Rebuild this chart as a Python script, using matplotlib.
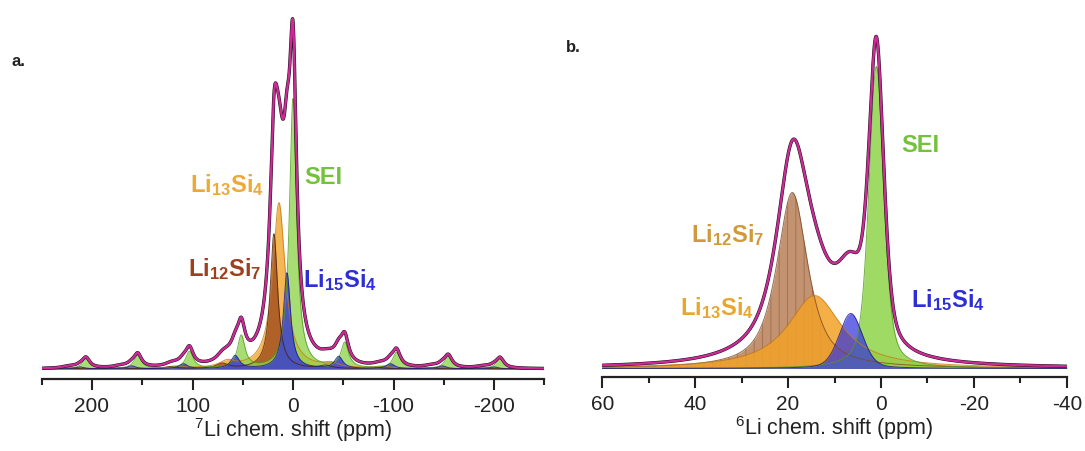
import numpy as np
import matplotlib
matplotlib.use('Agg')
import matplotlib.pyplot as plt
from matplotlib.ticker import MultipleLocator

plt.rcParams['font.family'] = ['Liberation Sans', 'DejaVu Sans']
plt.rcParams['mathtext.fontset'] = 'custom'
plt.rcParams['mathtext.rm'] = 'Liberation Sans'
plt.rcParams['mathtext.bf'] = 'Liberation Sans:bold'
plt.rcParams['mathtext.it'] = 'Liberation Sans:italic'
plt.rcParams['hatch.linewidth'] = 0.8
plt.rcParams['axes.unicode_minus'] = False

# ---------------- data ----------------
phases = ['Li13Si4', 'Li12Si7', 'SEI', 'Li15Si4']

# panel a: 7Li, peak centre (ppm), height (a.u.), full width at half max (ppm), Lorentzian fraction
a_center = [14.0, 19.0, 0.0, 6.0]
a_height = [166, 135, 270, 96]
a_fwhm = [15.0, 9.0, 8.5, 8.5]
a_eta = [1.0, 1.0, 1.0, 1.0]
# spinning sidebands (spacing in ppm), orders and heights per phase
a_spin = 51.5
a_sb_order = [-4, -3, -2, -1, 1, 2, 3, 4]
a_sb_Li13Si4 = [1, 1, 2, 4, 6, 2, 1, 1]
a_sb_Li12Si7 = [1, 1, 1, 3, 5, 2, 1, 1]
a_sb_SEI = [10, 12, 16, 25, 32, 17, 13, 10]
a_sb_Li15Si4 = [2, 3, 5, 12, 13, 5, 3, 2]
a_sb_fwhm = [18.0, 14.0, 9.0, 10.0]

# panel b: 6Li
b_center = [14.3, 19.1, 1.0, 6.5]
b_height = [73, 176, 302, 55]
b_fwhm = [14.0, 8.0, 3.8, 6.0]
b_eta = [1.0, 0.8, 0.5, 0.3]

a_xticks_major = [200, 100, 0, -100, -200]
b_xticks_major = [60, 40, 20, 0, -20, -40]


def peak(x, c, h, fwhm, eta):
    hw = fwhm / 2.0
    lor = 1.0 / (1.0 + ((x - c) / hw) ** 2)
    gau = np.exp(-np.log(2) * ((x - c) / hw) ** 2)
    return h * (eta * lor + (1 - eta) * gau)


# ---------------- styles ----------------
fill_col = {'Li13Si4': '#f3a227', 'Li12Si7': '#9c4a1c', 'SEI': '#8ed44a', 'Li15Si4': '#3434de'}
edge_col = {'Li13Si4': '#c77a10', 'Li12Si7': '#4a1e08', 'SEI': '#4f9a1c', 'Li15Si4': '#16168a'}
fill_col_b = dict(fill_col, **{'Li12Si7': '#b98058'})
edge_col_b = dict(edge_col, **{'Li12Si7': '#7a4a2a'})
magenta = '#cc2a96'
draw_order = ['Li13Si4', 'Li12Si7', 'SEI', 'Li15Si4']

W, H = 1085, 452
fig = plt.figure(figsize=(W / 100, H / 100), dpi=100)


def axes_px(x0, x1, ytop, ybot):
    return fig.add_axes([x0 / W, 1 - ybot / H, (x1 - x0) / W, (ybot - ytop) / H])


def style_axis(ax, major, minor):
    for s in ['left', 'right', 'top']:
        ax.spines[s].set_visible(False)
    ax.spines['bottom'].set_linewidth(1.6)
    ax.spines['bottom'].set_color('#222222')
    ax.set_yticks([])
    ax.xaxis.set_major_locator(MultipleLocator(major))
    ax.xaxis.set_minor_locator(MultipleLocator(minor))
    ax.tick_params(axis='x', which='major', direction='out', length=8, width=1.5,
                   labelsize=15, pad=4, colors='#222222')
    ax.tick_params(axis='x', which='minor', direction='out', length=4, width=1.5,
                   colors='#222222')
    ax.patch.set_alpha(0)


# ---------------- panel a ----------------
axa = axes_px(41.75, 544.25, 5, 380)
xa = np.linspace(250, -250, 6001)
sb_table = {'Li13Si4': a_sb_Li13Si4, 'Li12Si7': a_sb_Li12Si7,
            'SEI': a_sb_SEI, 'Li15Si4': a_sb_Li15Si4}
comps_a = {}
for i, p in enumerate(phases):
    y = peak(xa, a_center[i], a_height[i], a_fwhm[i], a_eta[i])
    for k, hsb in zip(a_sb_order, sb_table[p]):
        y = y + peak(xa, a_center[i] + k * a_spin, hsb, a_sb_fwhm[i], a_eta[i])
    comps_a[p] = y
total_a = sum(comps_a.values())
for p in draw_order:
    axa.fill_between(xa, 0, comps_a[p], color=fill_col[p], alpha=0.78, lw=0)
    axa.plot(xa, comps_a[p], color=edge_col[p], lw=0.7, alpha=0.8)
axa.plot(xa, total_a, color='#111111', lw=2.4)
axa.plot(xa, total_a, color=magenta, lw=1.7)
axa.set_xlim(250, -250)
axa.set_ylim(-10, 365)
style_axis(axa, 100, 50)
axa.set_xticks(a_xticks_major)
axa.set_xlabel(r'$^{7}$Li chem. shift (ppm)', fontsize=15.5, labelpad=0, color='#222222')

# ---------------- panel b ----------------
axb = axes_px(602.3, 1066.8, 5, 378)
xb = np.linspace(60, -40, 4001)
comps_b = {p: peak(xb, b_center[i], b_height[i], b_fwhm[i], b_eta[i]) for i, p in enumerate(phases)}
total_b = sum(comps_b.values())
for p in ['Li12Si7', 'Li13Si4', 'SEI', 'Li15Si4']:
    axb.fill_between(xb, 0, comps_b[p], color=fill_col_b[p], alpha=0.85 if p != 'Li15Si4' else 0.72, lw=0)
    if p == 'Li12Si7':
        axb.fill_between(xb, 0, comps_b[p], facecolor='none', hatch='||',
                         edgecolor=(0.45, 0.25, 0.12, 0.35), lw=0)
    axb.plot(xb, comps_b[p], color=edge_col_b[p], lw=0.7, alpha=0.8)
axb.plot(xb, total_b, color='#111111', lw=2.4)
axb.plot(xb, total_b, color=magenta, lw=1.7)
axb.set_xlim(60, -40)
axb.set_ylim(-8.5, 364.5)
style_axis(axb, 20, 10)
axb.set_xticks(b_xticks_major)
axb.set_xlabel(r'$^{6}$Li chem. shift (ppm)', fontsize=15.5, labelpad=0, color='#222222')

# ---------------- labels ----------------
def label(x, y, s, col, size=17):
    fig.text(x / W, 1 - y / H, s, color=col, fontsize=size, fontweight='bold',
             ha='center', va='center')

L13 = r'Li$_{\mathbf{13}}$Si$_{\mathbf{4}}$'
L12 = r'Li$_{\mathbf{12}}$Si$_{\mathbf{7}}$'
L15 = r'Li$_{\mathbf{15}}$Si$_{\mathbf{4}}$'

label(227, 185, L13, '#eea837')
label(323, 178, 'SEI', '#74c23c')
label(225, 269, L12, '#9e3f1e')
label(340, 280, L15, '#2e2ed6')

label(920, 145, 'SEI', '#74c23c')
label(728, 235, L12, '#d09a3c')
label(717, 308, L13, '#eaa52c')
label(948, 300, L15, '#2e2ed6')

fig.text(18 / W, 1 - 62 / H, 'a.', fontsize=12, fontweight='bold', ha='center', va='center', color='#222222')
fig.text(573 / W, 1 - 47 / H, 'b.', fontsize=12, fontweight='bold', ha='center', va='center', color='#222222')

fig.savefig('out.png', dpi=100)
